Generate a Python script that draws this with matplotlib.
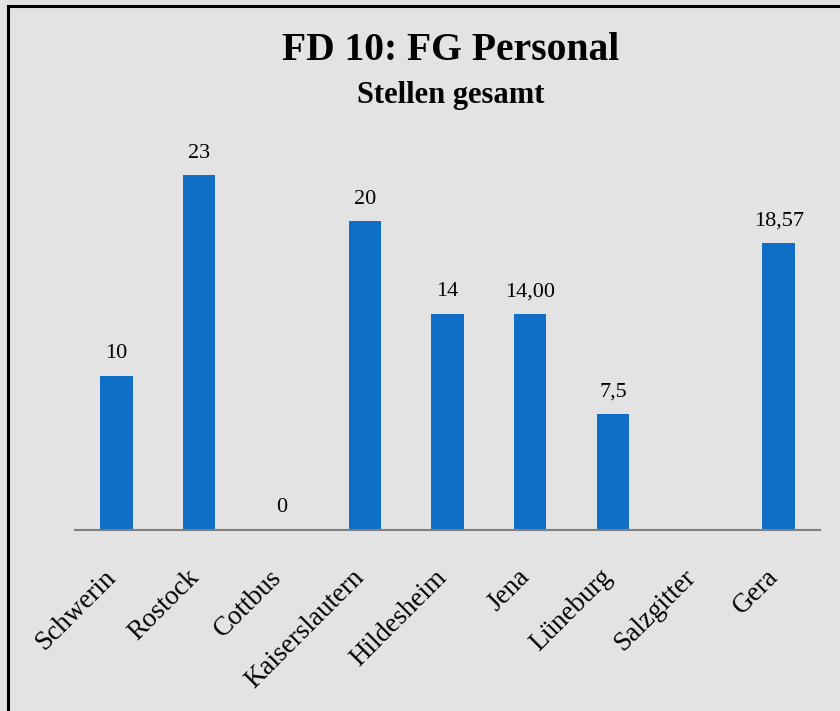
import matplotlib
matplotlib.use("Agg")
import matplotlib.pyplot as plt
from matplotlib.lines import Line2D
import matplotlib.transforms as mtransforms
import numpy as np

categories = ["Schwerin", "Rostock", "Cottbus", "Kaiserslautern", "Hildesheim",
              "Jena", "Lüneburg", "Salzgitter", "Gera"]
values = [10, 23, 0, 20, 14, 14.00, 7.5, 0, 18.57]
value_labels = ["10", "23", "0", "20", "14", "14,00", "7,5", "", "18,57"]
title = "FD 10: FG Personal"
subtitle = "Stellen gesamt"

bg = "#e3e3e3"
bar_color = "#0f6fc6"
font = ["Liberation Serif", "DejaVu Serif"]

fig = plt.figure(figsize=(8.4, 7.11), dpi=100, facecolor=bg)
ax = fig.add_axes([75/840, 1-530/711, 745/840, 395/711])
ax.set_facecolor(bg)

x = np.arange(len(categories))
bars = ax.bar(x, values, width=0.39, color=bar_color, zorder=2)
ax.set_xlim(-0.5, len(categories)-0.5)
ax.set_ylim(0, 395/15.43)

for xi, v, lab in zip(x, values, value_labels):
    if lab:
        ax.annotate(lab, (xi, v), xytext=(0, 9), textcoords="offset points",
                    ha="center", va="bottom", fontsize=16, family=font, color="black")

for s in ["top", "right", "left"]:
    ax.spines[s].set_visible(False)
ax.spines["bottom"].set_color("#7f7f7f")
ax.spines["bottom"].set_linewidth(1.5)
ax.set_yticks([])
ax.set_xticks(x)
ax.set_xticklabels(categories, rotation=45, ha="right", rotation_mode="anchor",
                   fontsize=19.5, family=font)
ax.tick_params(axis="x", length=0, pad=25)
offset = mtransforms.ScaledTranslation(-13/100, 0, fig.dpi_scale_trans)
for lbl in ax.get_xticklabels():
    lbl.set_transform(lbl.get_transform() + offset)

fig.text(451/840, 1-50/711, title, ha="center", va="center", fontsize=28.5,
         fontweight="bold", family=font)
fig.text(451/840, 1-96/711, subtitle, ha="center", va="center", fontsize=22,
         fontweight="bold", family=font)

# frame border (partially cropped)
fig.add_artist(Line2D([8/840, 8/840], [0, 1-6/711], transform=fig.transFigure,
                      color="black", linewidth=2.2))
fig.add_artist(Line2D([8/840, 1], [1-6/711, 1-6/711], transform=fig.transFigure,
                      color="black", linewidth=2.2))

fig.savefig("out.png", dpi=100, facecolor=bg)
